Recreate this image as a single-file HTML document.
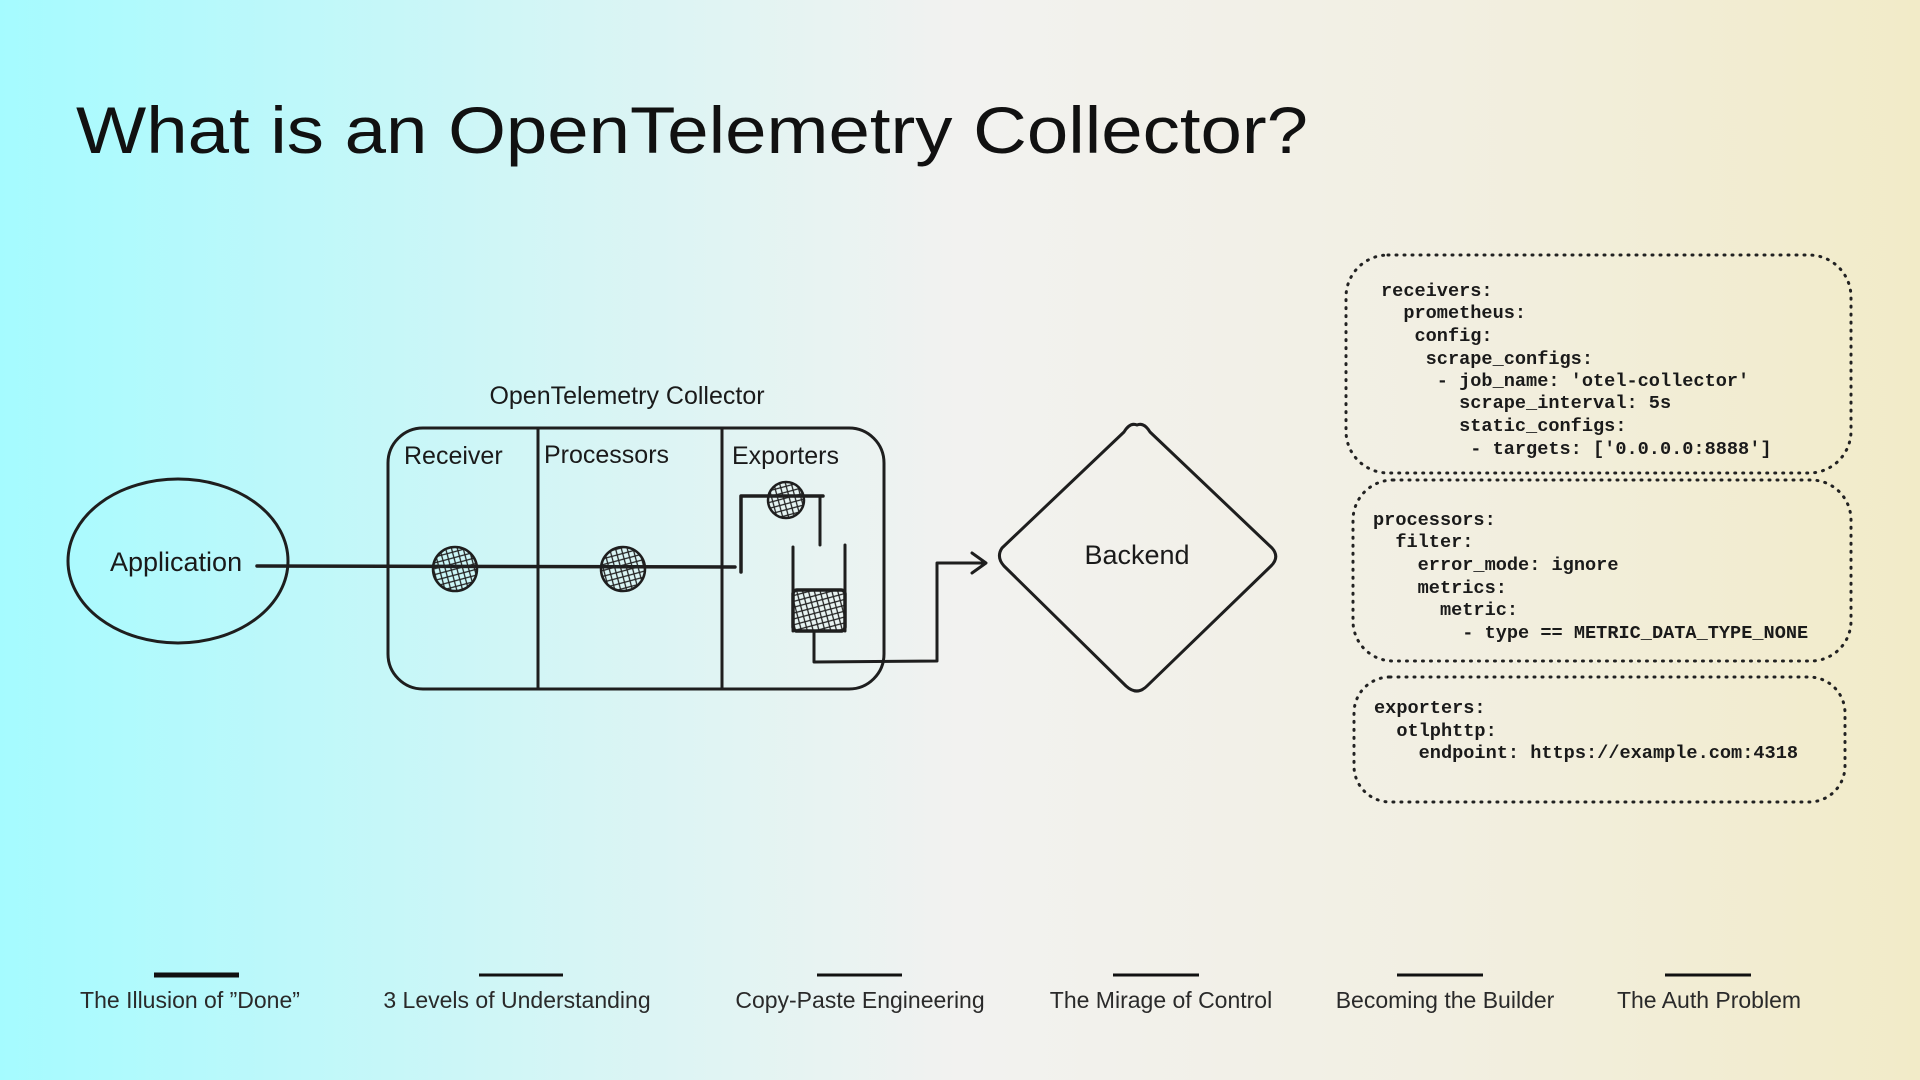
<!DOCTYPE html>
<html><head><meta charset="utf-8"><style>
html,body{margin:0;padding:0;}
body{width:1920px;height:1080px;overflow:hidden;background:linear-gradient(90deg,#a5fbff 0%,#d6f5f5 30%,#f2f2f0 50%,#f2efe2 75%,#f2ebc8 100%);font-family:"Liberation Sans",sans-serif;}
svg{position:absolute;left:0;top:0;}
.h{font-family:"Liberation Sans",sans-serif;font-size:25px;fill:#1a1a1a;}
.c{font-family:"Liberation Mono",monospace;font-weight:bold;font-size:18.6px;fill:#1a1a1a;white-space:pre;}
.f{font-family:"Liberation Sans",sans-serif;font-size:23px;fill:#2a2a2a;text-anchor:middle;}
</style></head><body>
<svg width="1920" height="1080" viewBox="0 0 1920 1080">
<defs>
<pattern id="hx" width="8" height="8" patternUnits="userSpaceOnUse" patternTransform="rotate(30)">
<path d="M0 0L8 8M8 0L0 8" stroke="#222" stroke-width="1.3"/>
</pattern>
</defs>
<text x="76" y="153" textLength="1232" lengthAdjust="spacingAndGlyphs" style="font-family:'Liberation Sans',sans-serif;font-size:66px;fill:#111">What is an OpenTelemetry Collector?</text>

<g fill="none" stroke="#1e1e1e" stroke-width="3" stroke-linecap="round" stroke-linejoin="round">
<ellipse cx="178" cy="561" rx="110" ry="82"/>
<rect x="388" y="428" width="496" height="261" rx="35"/>
<line x1="538" y1="428" x2="538" y2="689"/>
<line x1="722" y1="428" x2="722" y2="689"/>
<line x1="257" y1="566" x2="735" y2="567" stroke-width="3.5"/>
<polyline points="741,572 741,496 823,496" stroke-width="3.5"/>
<line x1="820" y1="496" x2="820" y2="545"/>
<line x1="793" y1="547" x2="793" y2="631"/>
<line x1="845" y1="545" x2="845" y2="631"/>
<polyline points="814,631 814,662 937,661 937,563 985,563"/>
<polyline points="972,553 986,563 972,573"/>
<path d="M1137,425 Q1130,422 1124,432 L1002,548 Q996,557 1004,566 L1126,686 Q1137,696 1147,686 L1271,566 Q1280,557 1272,548 L1150,432 Q1144,422 1137,425 Z"/>
</g>
<g stroke="#1e1e1e" stroke-width="2.5">
<circle cx="455" cy="569" r="22" fill="url(#hx)"/>
<circle cx="623" cy="569" r="22" fill="url(#hx)"/>
<circle cx="786" cy="500" r="18" fill="url(#hx)"/>
<rect x="793" y="590" width="52" height="41" rx="4" fill="url(#hx)" stroke-width="3.5"/>
</g>
<text class="h" x="627" y="404" text-anchor="middle">OpenTelemetry Collector</text>
<text class="h" x="404" y="464">Receiver</text>
<text class="h" x="544" y="463">Processors</text>
<text class="h" x="732" y="464">Exporters</text>
<text class="h" x="110" y="571" style="font-size:27px">Application</text>
<text class="h" x="1137" y="564" text-anchor="middle" style="font-size:27px">Backend</text>

<g fill="none" stroke="#222" stroke-width="3" stroke-dasharray="1 7" stroke-linecap="round">
<rect x="1346" y="255" width="505" height="218" rx="42"/>
<rect x="1353" y="480" width="498" height="181" rx="40"/>
<rect x="1354" y="677" width="491" height="125" rx="36"/>
</g>
<text class="c" x="1381" y="296">receivers:</text>
<text class="c" x="1381" y="318">  prometheus:</text>
<text class="c" x="1381" y="341">   config:</text>
<text class="c" x="1381" y="364">    scrape_configs:</text>
<text class="c" x="1381" y="386">     - job_name: 'otel-collector'</text>
<text class="c" x="1381" y="408">       scrape_interval: 5s</text>
<text class="c" x="1381" y="431">       static_configs:</text>
<text class="c" x="1381" y="454">        - targets: ['0.0.0.0:8888']</text>

<text class="c" x="1373" y="525">processors:</text>
<text class="c" x="1373" y="547">  filter:</text>
<text class="c" x="1373" y="570">    error_mode: ignore</text>
<text class="c" x="1373" y="593">    metrics:</text>
<text class="c" x="1373" y="615">      metric:</text>
<text class="c" x="1373" y="638">        - type == METRIC_DATA_TYPE_NONE</text>

<text class="c" x="1374" y="713">exporters:</text>
<text class="c" x="1374" y="736">  otlphttp:</text>
<text class="c" x="1374" y="758">    endpoint: https://example.com:4318</text>

<g stroke="#111" stroke-width="3">
<line x1="154" y1="975" x2="239" y2="975" stroke-width="5"/>
<line x1="479" y1="975" x2="563" y2="975"/>
<line x1="817" y1="975" x2="902" y2="975"/>
<line x1="1113" y1="975" x2="1199" y2="975"/>
<line x1="1397" y1="975" x2="1483" y2="975"/>
<line x1="1665" y1="975" x2="1751" y2="975"/>
</g>
<text class="f" x="190" y="1008">The Illusion of ”Done”</text>
<text class="f" x="517" y="1008">3 Levels of Understanding</text>
<text class="f" x="860" y="1008">Copy-Paste Engineering</text>
<text class="f" x="1161" y="1008">The Mirage of Control</text>
<text class="f" x="1445" y="1008">Becoming the Builder</text>
<text class="f" x="1709" y="1008">The Auth Problem</text>
</svg>
</body></html>
